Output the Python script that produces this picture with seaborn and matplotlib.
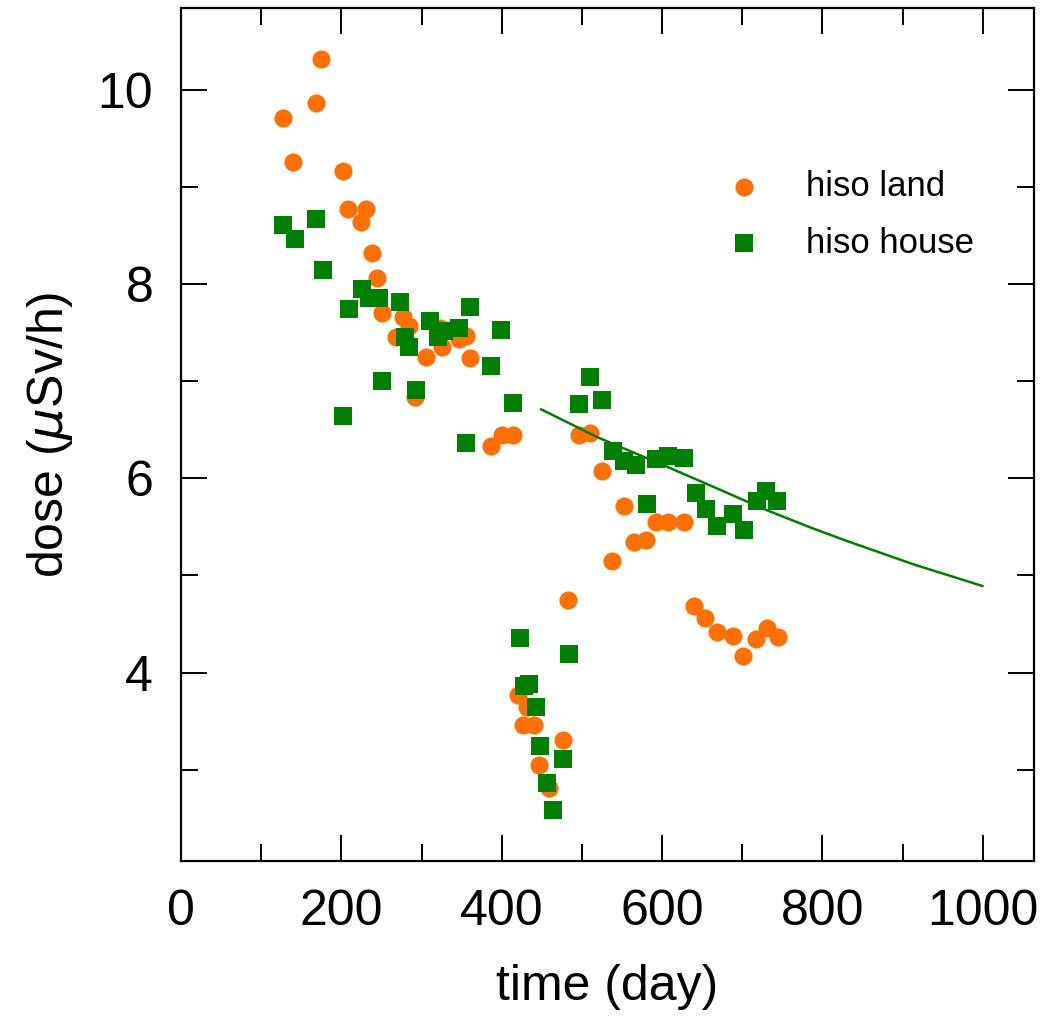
import numpy as np
import pandas as pd
import seaborn as sns
import matplotlib.pyplot as plt
from matplotlib.ticker import MultipleLocator

# hiso land (orange circles)
land_day = [127, 140, 169, 175, 202, 208, 224, 231, 238, 244, 251, 268, 277, 285,
            292, 306, 323, 326, 347, 356, 360, 387, 401, 414, 420, 426, 432, 440,
            447, 459, 477, 483, 497, 510, 525, 538, 552, 565, 580, 593, 607, 627,
            640, 654, 668, 688, 701, 717, 731, 745]
land_dose = [9.71, 9.25, 9.86, 10.32, 9.16, 8.77, 8.64, 8.77, 8.32, 8.06, 7.70, 7.45, 7.66, 7.57,
             6.84, 7.25, 7.55, 7.35, 7.43, 7.46, 7.24, 6.33, 6.45, 6.45, 3.77, 3.46, 3.64, 3.46,
             3.05, 2.81, 3.31, 4.75, 6.44, 6.47, 6.07, 5.15, 5.71, 5.34, 5.36, 5.55, 5.55, 5.55,
             4.68, 4.56, 4.42, 4.38, 4.17, 4.34, 4.46, 4.37]

# hiso house (green squares)
house_day = [127, 142, 169, 177, 202, 210, 226, 235, 247, 251, 273, 279, 285, 293,
             311, 320, 328, 347, 356, 361, 387, 399, 414, 423, 428, 434, 443, 448,
             456, 464, 477, 484, 497, 510, 525, 539, 552, 567, 581, 593, 607, 627,
             642, 655, 668, 689, 702, 718, 730, 744]
house_dose = [8.61, 8.46, 8.67, 8.14, 6.64, 7.74, 7.95, 7.86, 7.85, 7.00, 7.81, 7.45, 7.35, 6.91,
              7.62, 7.45, 7.52, 7.55, 6.36, 7.76, 7.15, 7.53, 6.77, 4.36, 3.86, 3.88, 3.65, 3.24,
              2.86, 2.59, 3.11, 4.19, 6.76, 7.04, 6.80, 6.28, 6.18, 6.14, 5.73, 6.20, 6.23, 6.21,
              5.85, 5.68, 5.51, 5.63, 5.47, 5.77, 5.87, 5.77]

# fitted decay curve
fit_day = [449, 520, 603, 670, 728, 786, 832, 915, 1000]
fit_dose = [6.71, 6.42, 6.13, 5.89, 5.68, 5.49, 5.35, 5.11, 4.89]

orange = '#ff7000'
green = '#008000'

sns.set_theme(style='white')
plt.rcParams['font.family'] = ['Liberation Sans', 'DejaVu Sans']
plt.rcParams['mathtext.fontset'] = 'dejavusans'
plt.rcParams['text.color'] = 'black'
plt.rcParams['axes.labelcolor'] = 'black'
plt.rcParams['xtick.color'] = 'black'
plt.rcParams['ytick.color'] = 'black'

land = pd.DataFrame({'day': land_day, 'dose': land_dose})
house = pd.DataFrame({'day': house_day, 'dose': house_dose})
fit = pd.DataFrame({'day': fit_day, 'dose': fit_dose})

fig = plt.figure(figsize=(10.42, 10.16), dpi=100)
ax = fig.add_axes([181 / 1042, 155 / 1016, 853 / 1042, 853 / 1016])

sns.scatterplot(data=land, x='day', y='dose', ax=ax, color=orange, marker='o',
                s=170, linewidth=0, label='hiso land', zorder=3)
sns.scatterplot(data=house, x='day', y='dose', ax=ax, color=green, marker='s',
                s=150, linewidth=0, label='hiso house', zorder=4)
sns.lineplot(data=fit, x='day', y='dose', ax=ax, color=green, linewidth=1.8,
             zorder=5, legend=False)

ax.set_xlim(0, 1064)
ax.set_ylim(2.06, 10.84)
ax.xaxis.set_major_locator(MultipleLocator(200))
ax.xaxis.set_minor_locator(MultipleLocator(100))
ax.yaxis.set_major_locator(MultipleLocator(2))
ax.yaxis.set_minor_locator(MultipleLocator(1))
ax.tick_params(which='both', direction='in', bottom=True, left=True, top=True,
               right=True, width=1.4, color='black')
ax.tick_params(which='major', length=19, labelsize=36, labelcolor='black')
ax.tick_params(which='minor', length=12)
ax.tick_params(axis='x', which='major', pad=20)
ax.tick_params(axis='y', which='major', pad=20)
for sp in ax.spines.values():
    sp.set_visible(True)
    sp.set_color('black')
    sp.set_linewidth(1.6)

ax.set_xlabel('time (day)', fontsize=36, labelpad=21)
ax.set_ylabel(r'dose ($\mu$Sv/h)', fontsize=36, labelpad=16)

leg = ax.legend(loc='upper left', bbox_to_anchor=(709 / 1042, 1 - 170 / 1016),
                bbox_transform=fig.transFigure, frameon=False, fontsize=25,
                handletextpad=0.8, labelspacing=0.68, borderaxespad=0, borderpad=0)
for t in leg.get_texts():
    t.set_color('black')

fig.savefig('out.png', dpi=100)
